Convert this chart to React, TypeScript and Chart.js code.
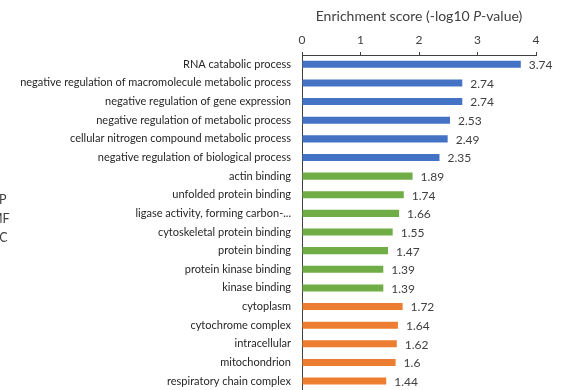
import React, { useEffect, useRef } from "react";
import { Chart, registerables } from "chart.js";

Chart.register(...registerables);

const categories = [
  "RNA catabolic process",
  "negative regulation of macromolecule metabolic process",
  "negative regulation of gene expression",
  "negative regulation of metabolic process",
  "cellular nitrogen compound metabolic process",
  "negative regulation of biological process",
  "actin binding",
  "unfolded protein binding",
  "ligase activity, forming carbon-...",
  "cytoskeletal protein binding",
  "protein binding",
  "protein kinase binding",
  "kinase binding",
  "cytoplasm",
  "cytochrome complex",
  "intracellular",
  "mitochondrion",
  "respiratory chain complex",
];
const scores = [3.74, 2.74, 2.74, 2.53, 2.49, 2.35, 1.89, 1.74, 1.66, 1.55, 1.47, 1.39, 1.39, 1.72, 1.64, 1.62, 1.6, 1.44];
const groups = ["BP", "BP", "BP", "BP", "BP", "BP", "MF", "MF", "MF", "MF", "MF", "MF", "MF", "CC", "CC", "CC", "CC", "CC"];
const groupNames = ["BP", "MF", "CC"];
const groupColors: Record<string, string> = { BP: "#4472C4", MF: "#70AD47", CC: "#ED7D31" };
const xTicks = [0, 1, 2, 3, 4];

const FONT = "Lato, 'Open Sans', sans-serif";

export default function App() {
  const ref = useRef<HTMLCanvasElement>(null);
  useEffect(() => {
    if (!ref.current) return;
    const valueLabels = {
      id: "valueLabels",
      afterDatasetsDraw(chart: any) {
        const ctx = chart.ctx;
        const meta = chart.getDatasetMeta(0);
        ctx.save();
        ctx.font = `12px ${FONT}`;
        ctx.fillStyle = "#404040";
        ctx.textAlign = "left";
        ctx.textBaseline = "middle";
        meta.data.forEach((el: any, i: number) => {
          ctx.fillText(String(scores[i]), el.x + 8, el.y + 1);
        });
        ctx.restore();
      },
    };
    const chart = new Chart(ref.current, {
      type: "bar",
      data: {
        labels: categories,
        datasets: [
          {
            data: scores,
            backgroundColor: groups.map((g) => groupColors[g]),
            categoryPercentage: 1,
            barPercentage: 0.38,
          },
        ],
      },
      options: {
        indexAxis: "y",
        animation: false,
        responsive: false,
        maintainAspectRatio: false,
        layout: { padding: { top: 0, right: 31, bottom: 0, left: 0 } },
        plugins: { legend: { display: false }, tooltip: { enabled: false } },
        scales: {
          x: {
            position: "top",
            min: 0,
            max: 4,
            afterBuildTicks: (s: any) => {
              s.ticks = xTicks.map((v) => ({ value: v }));
            },
            afterFit: (s: any) => {
              s.height = 55;
            },
            grid: { display: true, drawOnChartArea: false, drawTicks: true, tickLength: 3, color: "#404040" },
            border: { display: true, color: "#404040", width: 1 },
            ticks: { font: { family: FONT, size: 12 }, color: "#404040", padding: 5 },
          },
          y: {
            afterFit: (s: any) => {
              s.width = 302;
            },
            grid: { display: false, drawTicks: false },
            border: { display: true, color: "#404040", width: 1 },
            ticks: { font: { family: FONT, size: 11 }, color: "#262626", padding: 11, autoSkip: false },
          },
        },
      },
      plugins: [valueLabels],
    } as any);
    console.log(JSON.stringify(chart.chartArea));
    return () => chart.destroy();
  }, []);

  return (
    <div style={{ position: "absolute", left: 0, top: 0, width: 567, height: 390, overflow: "hidden", background: "#fff" }}>
      <canvas ref={ref} width={567} height={408} style={{ position: "absolute", left: 0, top: 0, width: 567, height: 408 }} />
      <div
        style={{
          position: "absolute",
          left: 302,
          width: 234,
          top: 7,
          textAlign: "center",
          fontFamily: FONT,
          fontSize: 14,
          color: "#404040",
          lineHeight: "18px",
        }}
      >
        Enrichment score (-log10 <i>P</i>-value)
      </div>
      <div style={{ position: "absolute", left: -9, top: 190, fontFamily: FONT, fontSize: 12.5, color: "#404040", lineHeight: "19px" }}>
        {groupNames.map((g) => (
          <div key={g}>{g}</div>
        ))}
      </div>
    </div>
  );
}
